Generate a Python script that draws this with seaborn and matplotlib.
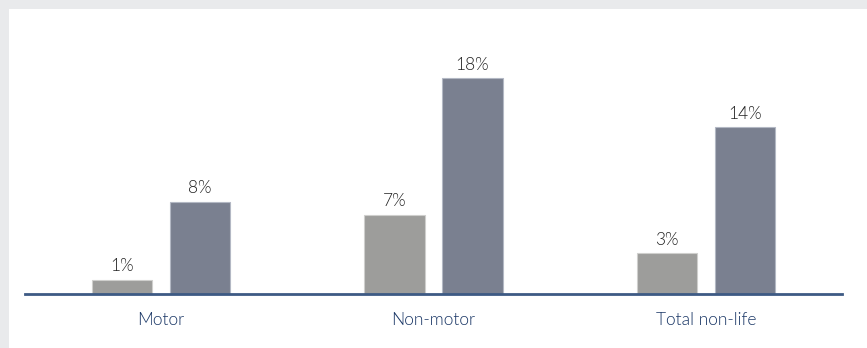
import matplotlib
matplotlib.use("Agg")
import matplotlib.pyplot as plt
from matplotlib.patches import Rectangle
import seaborn as sns
import pandas as pd

# Chart data
categories = ["Motor", "Non-motor", "Total non-life"]
series_names = ["Series 1", "Series 2"]
series_1 = [1.2, 6.6, 3.4]
series_2 = [7.7, 18.0, 13.9]

df = pd.DataFrame({
    "category": categories * 2,
    "series": [series_names[0]] * len(categories) + [series_names[1]] * len(categories),
    "value": series_1 + series_2,
})

sns.set_theme(style="white")
plt.rcParams["font.family"] = ["Lato", "DejaVu Sans"]

W, H = 867, 348
fig = plt.figure(figsize=(W / 100, H / 100), dpi=100)
fig.patch.set_facecolor("#e9eaec")
# white card inside the light grey frame
fig.add_artist(Rectangle((9 / W, 0), 1, (H - 9) / H, transform=fig.transFigure,
                         facecolor="white", edgecolor="none", zorder=0))

ax = fig.add_axes([25 / W, (H - 294) / H, (842 - 25) / W, 240 / H])
ax.patch.set_alpha(0)

sns.barplot(data=df, x="category", y="value", hue="series",
            palette=["#9d9d9b", "#7a8090"], saturation=1,
            width=0.573, gap=0.225, legend=False, ax=ax)

edge_colors = ["#cfcfcd", "#b3b8c4"]
for container, ec in zip(ax.containers, edge_colors):
    for bar in container:
        bar.set_edgecolor(ec)
        bar.set_linewidth(0.8)
    ax.bar_label(container, fmt="{:.0f}%", padding=4, fontsize=12.5,
                 color="#222222", fontweight=300)

ax.set_xlim(-0.5, 2.5)
ax.set_ylim(0, 20.03)
ax.set_xlabel("")
ax.set_ylabel("")
ax.set_yticks([])
for side in ["top", "left", "right"]:
    ax.spines[side].set_visible(False)
ax.spines["bottom"].set_color("#3d5a84")
ax.spines["bottom"].set_linewidth(2)
ax.tick_params(axis="x", length=0, pad=13, labelsize=12.5, labelcolor="#1a3766")
for lbl in ax.get_xticklabels():
    lbl.set_fontweight(300)

fig.savefig("out.png", dpi=100, facecolor=fig.get_facecolor())
